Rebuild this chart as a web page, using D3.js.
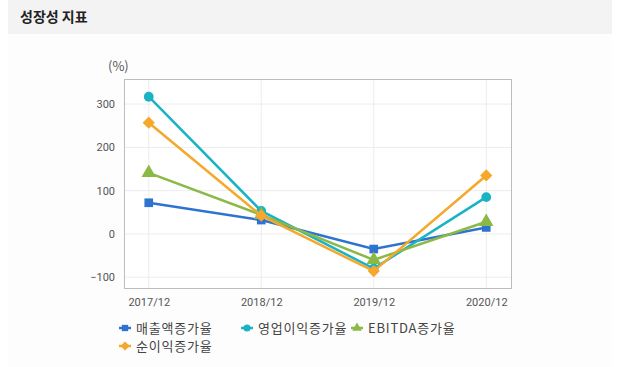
<!DOCTYPE html>
<html>
<head>
<meta charset="utf-8">
<script src="https://cdn.jsdelivr.net/npm/d3@7"></script>
<style>
  body { margin: 0; background: #fff; font-family: "Noto Sans CJK KR", "Noto Sans", sans-serif; }
  svg text { fill: #555; }
</style>
</head>
<body>
<div id="content"></div>
<script>
// chart data
var periods = ["2017/12", "2018/12", "2019/12", "2020/12"];
var seriesNames = ["매출액증가율", "영업이익증가율", "EBITDA증가율", "순이익증가율"];
var salesGrowth = [72, 32, -35, 15];
var opProfitGrowth = [317, 53, -80, 85];
var ebitdaGrowth = [141, 44, -60, 28];
var netProfitGrowth = [257, 42, -86, 135];
var yTicks = [-100, 0, 100, 200, 300];

var width = 621, height = 367;
var colors = ["#2f73d0", "#1ab3c4", "#8aba45", "#f5a82b"];
var symbols = [d3.symbolSquare, d3.symbolCircle, d3.symbolTriangle, d3.symbolSquare];
var rotations = [0, 0, 0, 45];
var allSeries = [salesGrowth, opProfitGrowth, ebitdaGrowth, netProfitGrowth];

var svg = d3.select("#content").append("svg")
  .attr("width", width)
  .attr("height", height);

// panel + header
svg.append("rect").attr("x", 8).attr("y", 0).attr("width", 604).attr("height", 367).attr("fill", "#fdfdfd");
svg.append("rect").attr("x", 8).attr("y", 0).attr("width", 604).attr("height", 34).attr("fill", "#f3f3f3");
svg.append("text").attr("x", 20).attr("y", 22)
  .style("font-size", "14px").style("font-weight", "bold").style("fill", "#222")
  .text("성장성 지표");

var plot = { left: 124, top: 79, right: 511, bottom: 288 };

var x = d3.scalePoint().domain(periods).range([plot.left, plot.right]).padding(0.22);
var y = d3.scaleLinear().domain([-125, 358]).range([plot.bottom, plot.top]);

var g = svg.append("g");

g.append("rect")
  .attr("x", plot.left).attr("y", plot.top)
  .attr("width", plot.right - plot.left).attr("height", plot.bottom - plot.top)
  .attr("fill", "#fff");

// grid
g.selectAll(".hgrid").data(yTicks).enter().append("line")
  .attr("x1", plot.left).attr("x2", plot.right)
  .attr("y1", function(d){ return y(d); }).attr("y2", function(d){ return y(d); })
  .attr("stroke", "#ececec");
g.selectAll(".vgrid").data(periods).enter().append("line")
  .attr("y1", plot.top).attr("y2", plot.bottom)
  .attr("x1", function(d){ return x(d); }).attr("x2", function(d){ return x(d); })
  .attr("stroke", "#ececec");

g.append("rect")
  .attr("x", plot.left + 0.5).attr("y", plot.top + 0.5)
  .attr("width", plot.right - plot.left).attr("height", plot.bottom - plot.top)
  .attr("fill", "none").attr("stroke", "#bdbdbd");

// axes
var yAxis = g.append("g").attr("transform", "translate(" + plot.left + ",0)")
  .call(d3.axisLeft(y).tickValues(yTicks).tickSize(0).tickPadding(9));
yAxis.select(".domain").remove();
yAxis.selectAll("text").style("font-size", "11px").style("font-family", "Roboto, sans-serif");

var xAxis = g.append("g").attr("transform", "translate(0," + plot.bottom + ")")
  .call(d3.axisBottom(x).tickSize(0).tickPadding(10));
xAxis.select(".domain").remove();
xAxis.selectAll("text").style("font-size", "11px").style("font-family", "Roboto, sans-serif");

svg.append("text").attr("x", 108).attr("y", 71)
  .style("font-size", "13px").text("(%)");

// series
var line = d3.line()
  .x(function(d, i){ return x(periods[i]); })
  .y(function(d){ return y(d); });

allSeries.forEach(function(vals, si) {
  g.append("path").datum(vals)
    .attr("d", line)
    .attr("fill", "none")
    .attr("stroke", colors[si])
    .attr("stroke-width", 2.5);
  g.selectAll(".m" + si).data(vals).enter().append("path")
    .attr("transform", function(d, i){
      return "translate(" + x(periods[i]) + "," + y(d) + ") rotate(" + rotations[si] + ")";
    })
    .attr("d", d3.symbol().type(symbols[si]).size(si == 2 ? 90 : 75))
    .attr("fill", colors[si]);
});

// legend
var legendPos = [[125, 328], [247, 328], [357, 328], [125, 346]];
var legend = svg.selectAll(".legend").data(seriesNames).enter().append("g")
  .attr("transform", function(d, i){ return "translate(" + legendPos[i][0] + "," + legendPos[i][1] + ")"; });
legend.append("line").attr("x1", -6).attr("x2", 6)
  .attr("stroke", function(d, i){ return colors[i]; }).attr("stroke-width", 2.5);
legend.append("path")
  .attr("transform", function(d, i){ return "rotate(" + rotations[i] + ")"; })
  .attr("d", function(d, i){ return d3.symbol().type(symbols[i]).size(40)(); })
  .attr("fill", function(d, i){ return colors[i]; });
legend.append("text").attr("x", 11).attr("y", 5)
  .style("font-size", "13px").style("letter-spacing", "0.8px").style("fill", "#444")
  .text(function(d){ return d; });
</script>
</body>
</html>
